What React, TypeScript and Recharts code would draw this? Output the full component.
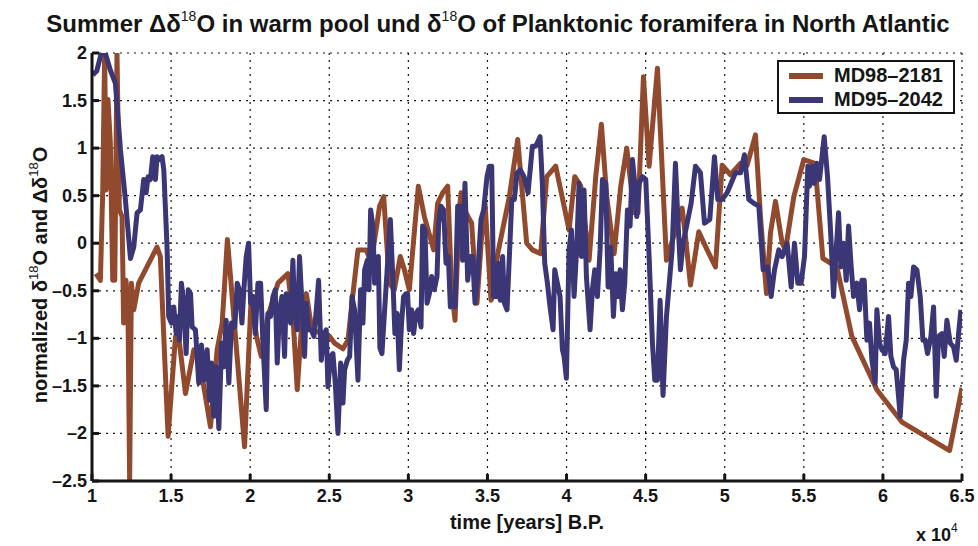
import React from "react";
import { LineChart, Line, XAxis, YAxis, CartesianGrid } from "recharts";

// MD98-2181 (warm pool), years B.P.
const brownYears = [
  10250, 10530, 10680, 10800, 10890, 11010, 11160, 11310, 11440, 11580, 11730, 11900, 12000, 12150, 12280,
  12380, 12490, 12640, 12950, 14110, 14320, 14810, 15280, 15530, 15910, 16440, 16750, 17490, 17910, 18230,
  18560, 19645, 20065, 20400, 20700, 21120, 21755, 22385, 22700, 22975, 23230, 23550, 23900, 25020, 25330,
  25865, 26180, 26500, 26813, 27340, 27650, 28180, 28440, 28800, 29110, 29490, 29750, 30060, 30630, 31010,
  31600, 31850, 32170, 32484, 32740, 32950, 33220, 33330, 33640, 34000, 34340, 34630, 34845, 35225, 35330,
  35650, 36385, 36911, 37480, 37840, 38368, 38747, 39316, 40160, 40518, 40900, 41424, 41846, 42204, 42540,
  43005, 43427, 43807, 44270, 44520, 44860, 45219, 45746, 46316, 47306, 47517, 47833, 48360, 48887, 49414,
  49836, 50363, 50995, 51417, 51944, 52260, 52640, 52893, 53209, 53630, 53841, 54368, 55000, 55700, 56204,
  57089, 58038, 59618, 61200, 64214, 65000,
];
const brownValues = [
  -0.32, -0.39, 0.56, 2.0, 0.56, 1.51, 1.05, -0.39, -0.39, 2.0, 0.35, 0.28, -0.84, -0.39, -0.81,
  -2.5, -0.42, -0.7, -0.42, -0.04, -0.14, -2.03, -0.98, -1.05, -1.58, -1.12, -1.19, -1.93, -1.12, -0.84,
  0.04, -2.14, -0.56, -0.98, -1.19, -0.77, -0.42, -0.32, -0.77, -1.54, -0.91, -0.53, -0.91, -0.98, -1.05,
  -1.11, -1.02, -0.53, -0.07, -0.07, -0.21, 0.39, 0.49, -0.42, -0.49, -0.14, -0.28, -0.49, 0.6, 0.28,
  -0.07, 0.42, 0.53, 0.6, -0.49, -0.81, 0.35, 0.53, 0.32, 0.21, -0.63, 0.07, 0.42, -0.6, -0.56,
  -0.11, 0.49, 1.09, 0.0, -0.07, -0.11, 0.7, 0.81, 0.14, 0.7, 0.6, -0.18, 0.7, 1.25, 0.49,
  -0.11, 0.6, 1.0, 0.32, 0.32, 1.75, 0.81, 1.84, -0.18, 0.37, 0.07, -0.44, 0.12, -0.07, -0.25,
  0.82, 0.72, 0.84, 0.82, 1.14, 0.28, -0.53, 0.11, 0.44, 0.0, -0.07, 0.49, 0.88, 0.84, -0.16,
  -0.25, -0.98, -1.54, -1.88, -2.18, -1.52,
];

// MD95-2042 (North Atlantic), years B.P.
const blueYears = [
  10050, 10300, 10590, 10840, 11160, 11480, 11800, 12110, 12430, 12640, 12850, 13060, 13270, 13420, 13550,
  13690, 13840, 14010, 14110, 14280, 14430, 14540, 14750, 14850, 15020, 15170, 15320, 15440, 15530, 15650,
  15800, 15950, 16080, 16230, 16330, 16540, 16750, 16920, 17070, 17280, 17430, 17560, 17700, 17850, 18020,
  18190, 18330, 18480, 18650, 18820, 19030, 19180, 19320, 19480, 19600, 19750, 19900, 20025, 20170, 20320,
  20490, 20660, 20800, 21015, 21120, 21290, 21440, 21585, 21710, 21860, 22010, 22175, 22280, 22430, 22555,
  22700, 22810, 22975, 23120, 23270, 23440, 23545, 23690, 23860, 24030, 24180, 24325, 24495, 24665, 24810,
  24915, 25085, 25230, 25380, 25550, 25720, 25865, 25970, 26140, 26290, 26434, 26600, 26813, 26980, 27130,
  27235, 27400, 27510, 27615, 27760, 27865, 28000, 28100, 28200, 28330, 28500, 28860, 29000, 29150, 29290,
  29430, 29570, 29700, 29850, 29950, 30060, 30200, 30330, 30480, 30630, 30800, 30900, 31050, 31180, 31330,
  31470, 31640, 31810, 31915, 32060, 32230, 32380, 32530, 32654, 32800, 32950, 33117, 33285, 33430, 33580,
  33750, 33920, 34065, 34214, 34380, 34590, 34760, 34970, 35120, 35270, 35390, 35540, 35690, 35815, 35960,
  36070, 36237, 36385, 36540, 36700, 36870, 37080, 37310, 37567, 37840, 38050, 38325, 38470, 38620, 38790,
  38958, 39148, 39253, 39420, 39590, 39738, 39843, 39990, 40160, 40307, 40476, 40645, 40792, 40940, 41108,
  41256, 41488, 41635, 41783, 41951, 42120, 42268, 42480, 42626, 42795, 42963, 43110, 43258, 43385, 43532,
  43680, 43849, 44017, 44165, 44312, 44440, 44586, 44797, 45008, 45219, 45430, 45577, 45746, 45915, 46100,
  46316, 46460, 46674, 46885, 47030, 47201, 47370, 47623, 47875, 48150, 48466, 48719, 49056, 49351, 49562,
  49836, 50152, 50405, 50680, 50995, 51248, 51523, 51839, 52155, 52429, 52724, 52935, 53146, 53420, 53630,
  53947, 54200, 54410, 54621, 54832, 55043, 55254, 55360, 55508, 55655, 55824, 55993, 56288, 56499, 56710,
  56878, 57047, 57195, 57342, 57511, 57680, 57827, 57995, 58143, 58354, 58523, 58670, 58818, 58986, 59155,
  59303, 59513, 59618, 59787, 59935, 60146, 60357, 60504, 60673, 60841, 61094, 61305, 61474, 61621, 61769,
  61938, 62149, 62359, 62528, 62676, 62823, 63034, 63202, 63371, 63518, 63729, 63877, 64046, 64257, 64468,
  64636, 64783, 64931,
];
const blueValues = [
  1.77, 1.81, 2.0, 2.0, 1.82, 1.68, 0.98, 0.46, -0.16, -0.04, 0.32, 0.35, 0.67, 0.53, 0.7,
  0.67, 0.91, 0.67, 0.91, 0.88, 0.91, 0.77, -0.07, -0.77, -0.84, -0.67, -0.95, -0.77, -1.02, -0.42,
  -0.63, -1.16, -0.49, -0.53, -0.88, -0.91, -1.47, -1.07, -1.44, -1.12, -1.65, -1.26, -1.82, -1.3, -1.95,
  -1.05, -1.3, -0.81, -1.47, -0.84, -0.88, -0.42, -0.49, -0.84, -0.49, -0.14, 0.0, -0.63, -0.56, -0.95,
  -0.42, -0.42, -1.02, -1.75, -0.74, -0.77, -0.56, -0.49, -1.26, -0.7, -0.56, -1.19, -0.53, -0.56, -0.84,
  -0.18, -0.7, -0.91, -0.14, -0.63, -1.19, -0.63, -0.91, -0.91, -0.98, -0.7, -0.39, -1.23, -0.95, -0.91,
  -1.51, -1.19, -1.16, -1.47, -2.0, -1.26, -1.68, -1.33, -1.23, -1.19, -0.56, -0.7, -1.44, -0.49, -0.84,
  -0.28, -0.18, -0.49, 0.35, 0.18, -0.42, -0.35, -0.14, -1.1, -1.16, -0.7, 0.25, -0.3, -0.95, -0.74,
  -1.33, -0.84, -0.56, -0.53, -0.53, -0.91, -0.7, -0.95, -0.74, -0.7, -0.88, 0.18, 0.14, -0.63, -0.53,
  -0.35, -0.49, -0.35, 0.21, 0.39, 0.35, -0.21, -0.14, -0.67, -0.56, -0.67, 0.39, 0.39, -0.18, 0.63,
  -0.39, -0.14, -0.14, -0.63, -0.35, 0.25, 0.35, 0.7, 0.81, 0.81, -0.56, -0.56, -0.21, -0.6, -0.14,
  -0.63, -0.7, -0.14, 0.46, 0.46, 0.74, 0.77, 0.7, 0.53, 1.02, 1.02, 1.12, 0.63, -0.21, -0.42,
  -0.67, -0.91, -0.28, -0.42, -0.56, -1.12, -1.19, -1.42, -0.07, 0.14, -0.56, -0.04, 0.63, -0.14, 0.56,
  -0.35, -0.91, -0.49, -0.28, -0.56, -0.07, 0.67, 0.63, -0.46, -0.04, -0.77, -0.32, -0.56, -0.28, -0.7,
  -0.42, 0.35, 0.18, 0.88, 0.63, 0.28, 0.63, 0.7, 0.67, -0.14, -1.05, -1.44, -1.44, -0.6, -1.6,
  -0.77, -0.49, -0.07, 0.84, 0.28, -0.28, 0.0, 0.21, 0.42, 0.81, 0.74, 0.21, 0.25, 0.91, 0.46,
  0.46, 0.53, 0.63, 0.74, 0.74, 0.93, 0.46, 0.42, 0.39, -0.28, -0.25, -0.56, -0.28, -0.07, -0.14,
  0.0, -0.46, 0.0, -0.42, -0.42, -0.14, 0.81, 0.6, 0.81, 0.63, 0.84, 0.67, 1.12, 0.7, 0.07,
  -0.56, -0.07, 0.32, -0.25, 0.0, -0.39, 0.18, -0.25, -0.56, -0.42, -0.7, -0.39, -0.39, -1.02, -0.84,
  -1.23, -1.47, -0.7, -1.05, -1.12, -1.16, -0.77, -1.19, -1.3, -1.33, -1.82, -1.23, -1.02, -0.42, -0.56,
  -0.25, -0.28, -0.56, -1.02, -1.02, -1.16, -0.98, -0.67, -1.61, -0.98, -0.95, -1.19, -0.81, -1.05, -1.09,
  -1.23, -0.95, -0.7,
];

const xTicks = [10000, 15000, 20000, 25000, 30000, 35000, 40000, 45000, 50000, 55000, 60000, 65000];
const yTicks = [-2.5, -2, -1.5, -1, -0.5, 0, 0.5, 1, 1.5, 2];

const seriesNames = ["MD98–2181", "MD95–2042"];
const BROWN = "#924a2e";
const BLUE = "#3b3675";
const INK = "#151515";
const FONT = "'Liberation Sans', Arial, Helvetica, sans-serif";

const brownData = brownYears.map((year, i) => ({ year, v: brownValues[i] }));
const blueData = blueYears.map((year, i) => ({ year, v: blueValues[i] }));

const fmtY = (v: number) => (v < 0 ? "–" + Math.abs(v) : String(v));

// eslint-disable-next-line @typescript-eslint/no-explicit-any
function BottomTick({ x, y, payload }: any) {
  return (
    <g>
      <line x1={x} x2={x} y1={y} y2={y - 7} stroke={INK} strokeWidth={3} />
      <text x={x} y={y + 21} textAnchor="middle" fontFamily={FONT} fontWeight="bold" fontSize={18} fill={INK}>
        {payload.value / 10000}
      </text>
    </g>
  );
}

// eslint-disable-next-line @typescript-eslint/no-explicit-any
function TopTick({ x, y }: any) {
  return <line x1={x} x2={x} y1={y} y2={y + 7} stroke={INK} strokeWidth={3} />;
}

// eslint-disable-next-line @typescript-eslint/no-explicit-any
function LeftTick({ x, y, payload }: any) {
  return (
    <g>
      <line x1={x} x2={x + 7} y1={y} y2={y} stroke={INK} strokeWidth={3} />
      <text x={x - 5} y={y + 6} textAnchor="end" fontFamily={FONT} fontWeight="bold" fontSize={18} fill={INK}>
        {fmtY(payload.value)}
      </text>
    </g>
  );
}

// eslint-disable-next-line @typescript-eslint/no-explicit-any
function RightTick({ x, y }: any) {
  return <line x1={x} x2={x - 7} y1={y} y2={y} stroke={INK} strokeWidth={3} />;
}

function LegendBox() {
  const colors = [BROWN, BLUE];
  return (
    <div
      style={{
        position: "absolute",
        left: 777,
        top: 60,
        width: 174,
        height: 50,
        border: `2px solid ${INK}`,
        background: "#fff",
      }}
    >
      {seriesNames.map((name, i) => (
        <div key={name} style={{ display: "flex", alignItems: "center", height: 25, marginTop: i === 0 ? 1 : -1 }}>
          <svg width={45} height={10} style={{ marginLeft: 10 }}>
            <line x1={0} x2={34} y1={5} y2={5} stroke={colors[i]} strokeWidth={6} />
          </svg>
          <span style={{ fontFamily: FONT, fontWeight: "bold", fontSize: 20, color: INK, lineHeight: "25px" }}>
            {name}
          </span>
        </div>
      ))}
    </div>
  );
}

export default function App() {
  const W = 978;
  const H = 546;
  return (
    <div style={{ position: "absolute", left: 0, top: 0, width: W, height: H, background: "#fff" }}>
      <LineChart width={W} height={H} margin={{ top: 53, right: 16, bottom: 25, left: 32 }}>
        <CartesianGrid stroke={INK} strokeWidth={1.2} strokeDasharray="2 5" />
        <XAxis
          dataKey="year"
          type="number"
          domain={[10000, 65000]}
          ticks={xTicks}
          interval={0}
          allowDataOverflow
          height={40}
          tickSize={0}
          tickMargin={0}
          tickLine={false}
          axisLine={{ stroke: INK, strokeWidth: 3 }}
          tick={<BottomTick />}
        />
        <XAxis
          xAxisId="top"
          orientation="top"
          type="number"
          domain={[10000, 65000]}
          ticks={xTicks}
          interval={0}
          allowDataOverflow
          height={0}
          tickSize={0}
          tickMargin={0}
          tickLine={false}
          axisLine={{ stroke: INK, strokeWidth: 3 }}
          tick={<TopTick />}
        />
        <YAxis
          type="number"
          domain={[-2.5, 2]}
          ticks={yTicks}
          interval={0}
          allowDataOverflow
          width={60}
          tickSize={0}
          tickMargin={0}
          tickLine={false}
          axisLine={{ stroke: INK, strokeWidth: 3 }}
          tick={<LeftTick />}
        />
        <YAxis
          yAxisId="right"
          orientation="right"
          type="number"
          domain={[-2.5, 2]}
          ticks={yTicks}
          interval={0}
          allowDataOverflow
          width={0}
          tickSize={0}
          tickMargin={0}
          tickLine={false}
          axisLine={{ stroke: INK, strokeWidth: 3 }}
          tick={<RightTick />}
        />
        <Line
          data={brownData}
          dataKey="v"
          name={seriesNames[0]}
          stroke={BROWN}
          strokeWidth={5}
          strokeLinejoin="round"
          dot={false}
          isAnimationActive={false}
        />
        <Line
          data={blueData}
          dataKey="v"
          name={seriesNames[1]}
          stroke={BLUE}
          strokeWidth={5}
          strokeLinejoin="round"
          dot={false}
          isAnimationActive={false}
        />
      </LineChart>
      <svg
        width={W}
        height={H}
        style={{ position: "absolute", left: 0, top: 0, pointerEvents: "none" }}
        fontFamily={FONT}
        fontWeight="bold"
        fill={INK}
      >
        <text x={498} y={32} textAnchor="middle" fontSize={24}>
          Summer Δδ
          <tspan dy={-11} fontSize={14} fontWeight="normal">18</tspan>
          <tspan dy={11}>O in warm pool und δ</tspan>
          <tspan dy={-11} fontSize={14} fontWeight="normal">18</tspan>
          <tspan dy={11}>O of Planktonic  foramifera in North Atlantic</tspan>
        </text>
        <text transform="translate(47 275) rotate(-90)" textAnchor="middle" fontSize={20}>
          normalized δ
          <tspan dy={-9} fontSize={13} fontWeight="normal">18</tspan>
          <tspan dy={9}>O and Δδ</tspan>
          <tspan dy={-9} fontSize={13} fontWeight="normal">18</tspan>
          <tspan dy={9}>O</tspan>
        </text>
        <text x={527} y={529} textAnchor="middle" fontSize={20}>
          time [years] B.P.
        </text>
        <text x={916} y={541} fontSize={18}>
          x 10
          <tspan dy={-9} fontSize={12} fontWeight="normal">4</tspan>
        </text>
      </svg>
      <LegendBox />
    </div>
  );
}
